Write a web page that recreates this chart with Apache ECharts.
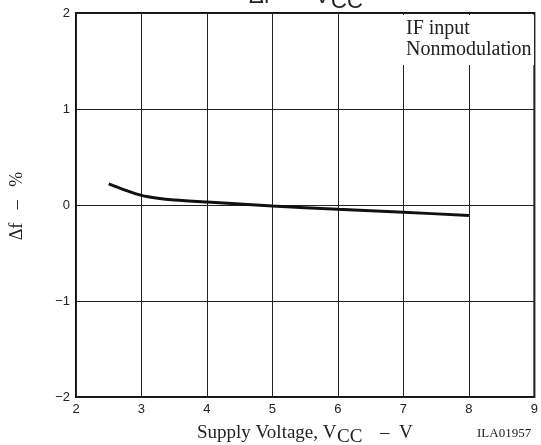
<!DOCTYPE html>
<html><head><meta charset="utf-8">
<script src="https://cdn.jsdelivr.net/npm/echarts@6/dist/echarts.min.js"></script>
<style>html,body{margin:0;padding:0;background:#fff}#c{width:541px;height:445px}</style>
</head><body><div id="c"></div>
<script>
const supplyVoltage = [2.5, 2.75, 3, 3.25, 3.5, 4, 5, 6, 7, 8];
const deltaF = [0.22, 0.155, 0.10, 0.07, 0.052, 0.03, -0.01, -0.045, -0.075, -0.11];
const xTicks = [2, 3, 4, 5, 6, 7, 8, 9];
const yTicks = [-2, -1, 0, 1, 2];

const chart = echarts.init(document.getElementById('c'), null, {renderer: 'canvas'});
const sans = 'Liberation Sans, Arial, sans-serif';
const serif = 'Liberation Serif, Times New Roman, serif';
chart.setOption({
  animation: false,
  backgroundColor: '#fff',
  grid: {left: 76, right: 4, top: 13, bottom: 48, show: true, borderColor: '#111', borderWidth: 2, backgroundColor: 'transparent'},
  xAxis: {
    type: 'value', min: xTicks[0], max: xTicks[xTicks.length - 1], interval: 1,
    axisLine: {show: false}, axisTick: {show: false},
    splitLine: {show: true, lineStyle: {color: '#222', width: 1}},
    axisLabel: {color: '#222', fontFamily: sans, fontSize: 13, margin: 6,
      formatter: v => String(v).replace('-', '\u2212')}
  },
  yAxis: {
    type: 'value', min: yTicks[0], max: yTicks[yTicks.length - 1], interval: 1,
    axisLine: {show: false}, axisTick: {show: false},
    splitLine: {show: true, lineStyle: {color: '#222', width: 1}},
    axisLabel: {color: '#222', fontFamily: sans, fontSize: 13, margin: 6,
      formatter: v => String(v).replace('-', '\u2212')}
  },
  series: [{
    type: 'line', data: supplyVoltage.map((x, i) => [x, deltaF[i]]),
    smooth: 0.3, showSymbol: false, lineStyle: {color: '#111', width: 3}
  }],
  graphic: [
    {type: 'rect', left: 403, top: 15, shape: {width: 131, height: 50}, style: {fill: '#fff'}, z: 50},
    {type: 'text', left: 406, top: 19, z: 51, style: {text: 'IF input', font: '20px ' + serif, fill: '#222'}},
    {type: 'text', left: 406, top: 40, z: 51, style: {text: 'Nonmodulation', font: '20px ' + serif, fill: '#222'}},
    {type: 'text', left: 249, top: -14, z: 51, style: {text: '\u0394f', font: '22px ' + sans, fill: '#222'}},
    {type: 'text', left: 283, top: -14, z: 51, style: {text: '\u2013', font: '22px ' + sans, fill: '#222'}},
    {type: 'text', left: 315, top: -14, z: 51, style: {text: 'V', font: '22px ' + sans, fill: '#222'}},
    {type: 'text', left: 331, top: -9, z: 51, style: {text: 'CC', font: '22px ' + sans, fill: '#222'}},
    {type: 'text', left: 197, top: 424, z: 51, style: {text: 'Supply Voltage, V', font: '19px ' + serif, fill: '#222'}},
    {type: 'text', left: 337, top: 428, z: 51, style: {text: 'CC', font: '19px ' + serif, fill: '#222'}},
    {type: 'text', left: 380, top: 424, z: 51, style: {text: '\u2013  V', font: '19px ' + serif, fill: '#222'}},
    {type: 'text', left: 477, top: 427, z: 51, style: {text: 'ILA01957', font: '13px ' + serif, fill: '#222'}},
    {type: 'text', x: 17, y: 206, rotation: Math.PI / 2, z: 51,
      style: {text: '\u0394f   \u2013   %', font: '18px ' + serif, fill: '#222', align: 'center', verticalAlign: 'middle'}}
  ]
});
</script></body></html>
